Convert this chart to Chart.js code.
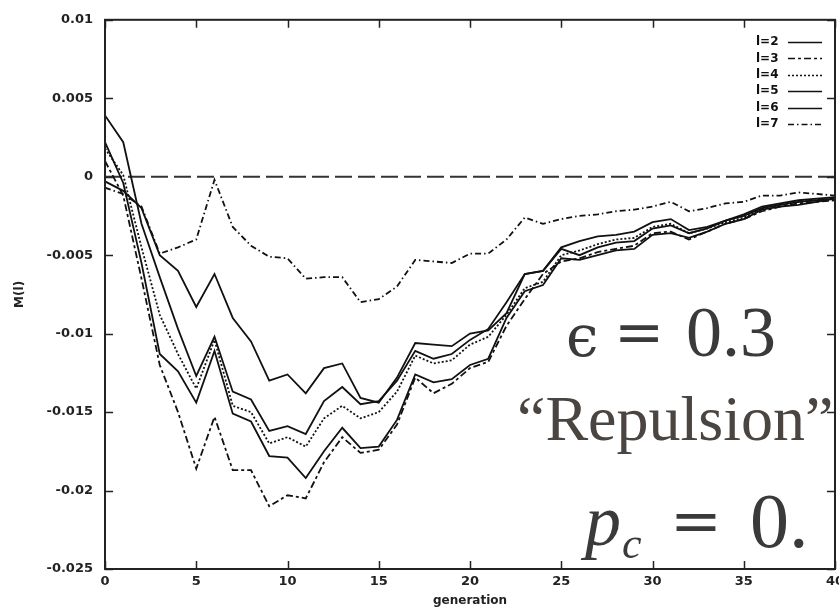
<!DOCTYPE html>
<html>
<head>
<meta charset="utf-8">
<script src="https://cdn.jsdelivr.net/npm/chart.js@4.4.1/dist/chart.umd.min.js"></script>
<style>
  html, body { margin: 0; padding: 0; background: #fff; overflow: hidden; }
  #wrap { position: relative; width: 850px; height: 611px; }
</style>
</head>
<body>
<div id="wrap"><canvas id="grafico"></canvas></div>
<script>
// generaciones (eje x)
const gens = [0, 1, 2, 3, 4, 5, 6, 7, 8, 9, 10, 11, 12, 13, 14, 15, 16, 17, 18, 19, 20,
  21, 22, 23, 24, 25, 26, 27, 28, 29, 30, 31, 32, 33, 34, 35, 36, 37, 38, 39, 40];

// M(l) para cada l
const m2 = [0.0022, -0.0004, -0.0055, -0.0113, -0.0124, -0.0144, -0.0111, -0.0151, -0.0156, -0.0178,
  -0.0179, -0.0192, -0.0175, -0.0160, -0.0173, -0.0172, -0.0155, -0.0126, -0.0131, -0.0129,
  -0.0120, -0.0116, -0.0090, -0.0073, -0.0069, -0.0052, -0.0053, -0.0050, -0.0047, -0.0046,
  -0.0037, -0.0036, -0.0039, -0.0035, -0.0030, -0.0027, -0.0021, -0.0019, -0.0018, -0.0016, -0.0014];
const m3 = [0.0010, -0.0012, -0.0065, -0.0120, -0.0150, -0.0186, -0.0153, -0.0187, -0.0187, -0.0210,
  -0.0203, -0.0205, -0.0182, -0.0166, -0.0176, -0.0174, -0.0158, -0.0128, -0.0138, -0.0132,
  -0.0122, -0.0118, -0.0095, -0.0078, -0.0062, -0.0054, -0.0052, -0.0048, -0.0046, -0.0044,
  -0.0036, -0.0035, -0.0040, -0.0035, -0.0030, -0.0027, -0.0022, -0.0019, -0.0017, -0.0016, -0.0015];
const m4 = [0.0018, 0.0001, -0.0045, -0.0088, -0.0113, -0.0135, -0.0104, -0.0146, -0.0150, -0.0170,
  -0.0166, -0.0172, -0.0154, -0.0146, -0.0154, -0.0150, -0.0137, -0.0114, -0.0119, -0.0117,
  -0.0107, -0.0102, -0.0088, -0.0071, -0.0067, -0.0050, -0.0047, -0.0043, -0.0040, -0.0039,
  -0.0032, -0.0030, -0.0036, -0.0033, -0.0029, -0.0026, -0.0020, -0.0018, -0.0016, -0.0015, -0.0014];
const m5 = [0.0039, 0.0022, -0.0030, -0.0064, -0.0097, -0.0127, -0.0102, -0.0137, -0.0142, -0.0162,
  -0.0159, -0.0164, -0.0143, -0.0134, -0.0145, -0.0143, -0.0130, -0.0111, -0.0116, -0.0113,
  -0.0104, -0.0097, -0.0080, -0.0062, -0.0060, -0.0046, -0.0050, -0.0045, -0.0042, -0.0041,
  -0.0033, -0.0031, -0.0036, -0.0033, -0.0028, -0.0025, -0.0020, -0.0018, -0.0016, -0.0015, -0.0014];
const m6 = [-0.0003, -0.0009, -0.0020, -0.0050, -0.0060, -0.0083, -0.0062, -0.0090, -0.0105, -0.0130,
  -0.0126, -0.0138, -0.0122, -0.0119, -0.0141, -0.0144, -0.0128, -0.0106, -0.0107, -0.0108,
  -0.0100, -0.0098, -0.0087, -0.0062, -0.0060, -0.0045, -0.0041, -0.0038, -0.0037, -0.0035,
  -0.0029, -0.0027, -0.0034, -0.0032, -0.0028, -0.0024, -0.0019, -0.0017, -0.0015, -0.0014, -0.0013];
const m7 = [-0.0007, -0.0011, -0.0019, -0.0049, -0.0045, -0.0040, -0.0002, -0.0032, -0.0044, -0.0051,
  -0.0052, -0.0065, -0.0064, -0.0064, -0.0080, -0.0078, -0.0070, -0.0053, -0.0054, -0.0055,
  -0.0049, -0.0049, -0.0040, -0.0026, -0.0030, -0.0027, -0.0025, -0.0024, -0.0022, -0.0021,
  -0.0019, -0.0016, -0.0022, -0.0020, -0.0017, -0.0016, -0.0012, -0.0012, -0.0010, -0.0011, -0.0012];

const seriesNames = ["l=2", "l=3", "l=4", "l=5", "l=6", "l=7"];

// ticks
const xTicks = [0, 5, 10, 15, 20, 25, 30, 35, 40];
const xTickLabels = ["0", "5", "10", "15", "20", "25", "30", "35", "40"];
const yTicks = [-0.025, -0.02, -0.015, -0.01, -0.005, 0, 0.005, 0.01];
const yTickLabels = ["-0.025", "-0.02", "-0.015", "-0.01", "-0.005", "0", "0.005", "0.01"];

const INK = "#111";
const dashes = [[], [7, 3, 3, 3], [2, 2], [], [], [6, 3, 1.5, 3]];

const toPoints = (vals) => gens.map((g, i) => ({ x: g, y: vals[i] }));

const datasets = [m2, m3, m4, m5, m6, m7].map((vals, i) => ({
  label: seriesNames[i],
  data: toPoints(vals),
  borderColor: INK,
  borderWidth: 1.8,
  borderDash: dashes[i],
  pointRadius: 0,
  tension: 0,
  fill: false,
}));

// línea de cero
datasets.push({
  label: "zero",
  data: [{ x: gens[0], y: 0 }, { x: gens[gens.length - 1], y: 0 }],
  borderColor: "#333",
  borderWidth: 2,
  borderDash: [17, 6],
  pointRadius: 0,
});

const tickFont = { family: "DejaVu Sans", size: 13, weight: "bold" };

// marco, ticks hacia adentro, leyenda y textos
const decor = {
  id: "decor",
  afterDraw(chart) {
    const { ctx, chartArea: a, scales } = chart;
    ctx.save();
    ctx.strokeStyle = "#222";
    ctx.lineWidth = 1.5;
    const t = 8;
    ctx.beginPath();
    xTicks.forEach((v) => {
      const px = Math.round(scales.x.getPixelForValue(v)) + 0.5;
      ctx.moveTo(px, a.bottom); ctx.lineTo(px, a.bottom - t);
      ctx.moveTo(px, a.top); ctx.lineTo(px, a.top + t);
    });
    yTicks.forEach((v) => {
      const py = Math.round(scales.y.getPixelForValue(v)) + 0.5;
      ctx.moveTo(a.left, py); ctx.lineTo(a.left + t, py);
      ctx.moveTo(a.right, py); ctx.lineTo(a.right - t, py);
    });
    ctx.stroke();
    ctx.lineWidth = 2;
    ctx.strokeRect(a.left, a.top, a.right - a.left, a.bottom - a.top);

    // leyenda
    ctx.font = 'bold 12px "DejaVu Sans"';
    ctx.fillStyle = "#111";
    ctx.textBaseline = "middle";
    ctx.textAlign = "left";
    chart.data.datasets.slice(0, 6).forEach((ds, i) => {
      const y = 42 + i * 16.4;
      ctx.fillText(ds.label, 756, y);
      ctx.beginPath();
      ctx.setLineDash(ds.borderDash);
      ctx.lineWidth = 1.5;
      ctx.strokeStyle = INK;
      ctx.moveTo(788, Math.round(y) + 0.5);
      ctx.lineTo(822, Math.round(y) + 0.5);
      ctx.stroke();
    });
    ctx.setLineDash([]);

    // anotaciones
    ctx.textBaseline = "alphabetic";
    ctx.fillStyle = "#3a3a3a";
    ctx.font = '58px "DejaVu Serif"';
    ctx.fillText("\u03F5", 566, 356);
    ctx.font = '60px "DejaVu Serif"';
    ctx.fillText("=", 614, 352);
    ctx.font = '72px "Liberation Serif"';
    ctx.fillText("0.3", 686, 356);

    ctx.fillStyle = "#4a4540";
    ctx.font = '64px "Liberation Serif"';
    ctx.fillText("\u201CRepulsion\u201D", 517, 440);

    ctx.fillStyle = "#3a3a3a";
    ctx.font = 'italic 72px "Liberation Serif"';
    ctx.fillText("p", 585, 545);
    ctx.font = 'italic 44px "Liberation Serif"';
    ctx.fillText("c", 622, 558);
    ctx.font = '62px "DejaVu Serif"';
    ctx.fillText("=", 670, 542);
    ctx.font = '78px "Liberation Serif"';
    ctx.fillText("0.", 750, 547);
    ctx.restore();
  },
};

const ctx = document.getElementById("grafico").getContext("2d");
new Chart(ctx, {
  type: "line",
  data: { datasets },
  options: {
    responsive: true,
    maintainAspectRatio: false,
    animation: false,
    layout: { padding: { top: 16, right: 15, left: 0, bottom: 0 } },
    plugins: { legend: { display: false }, tooltip: { enabled: false } },
    scales: {
      x: {
        type: "linear",
        min: 0,
        max: 40,
        afterBuildTicks: (s) => { s.ticks = xTicks.map((v) => ({ value: v })); },
        afterFit: (s) => { s.height = 42; },
        grid: { display: false, drawTicks: false },
        border: { display: false },
        ticks: {
          padding: 5,
          maxRotation: 0,
          autoSkip: false,
          color: "#222",
          font: tickFont,
          callback: (v, i) => xTickLabels[i],
        },
        title: {
          display: true,
          text: "generation",
          color: "#222",
          font: { family: "DejaVu Sans", size: 12, weight: "bold" },
          padding: { top: 0, bottom: 3 },
        },
      },
      y: {
        min: -0.025,
        max: 0.01,
        afterBuildTicks: (s) => { s.ticks = yTicks.map((v) => ({ value: v })); },
        afterFit: (s) => { s.width = 105; },
        grid: { display: false, drawTicks: false },
        border: { display: false },
        ticks: {
          padding: 12,
          autoSkip: false,
          color: "#222",
          font: tickFont,
          callback: (v, i) => yTickLabels[i],
        },
        title: {
          display: true,
          text: "M(l)",
          color: "#222",
          font: { family: "DejaVu Sans", size: 12, weight: "bold" },
          padding: { top: 13, bottom: 0 },
        },
      },
    },
  },
  plugins: [decor],
});
</script>
</body>
</html>
